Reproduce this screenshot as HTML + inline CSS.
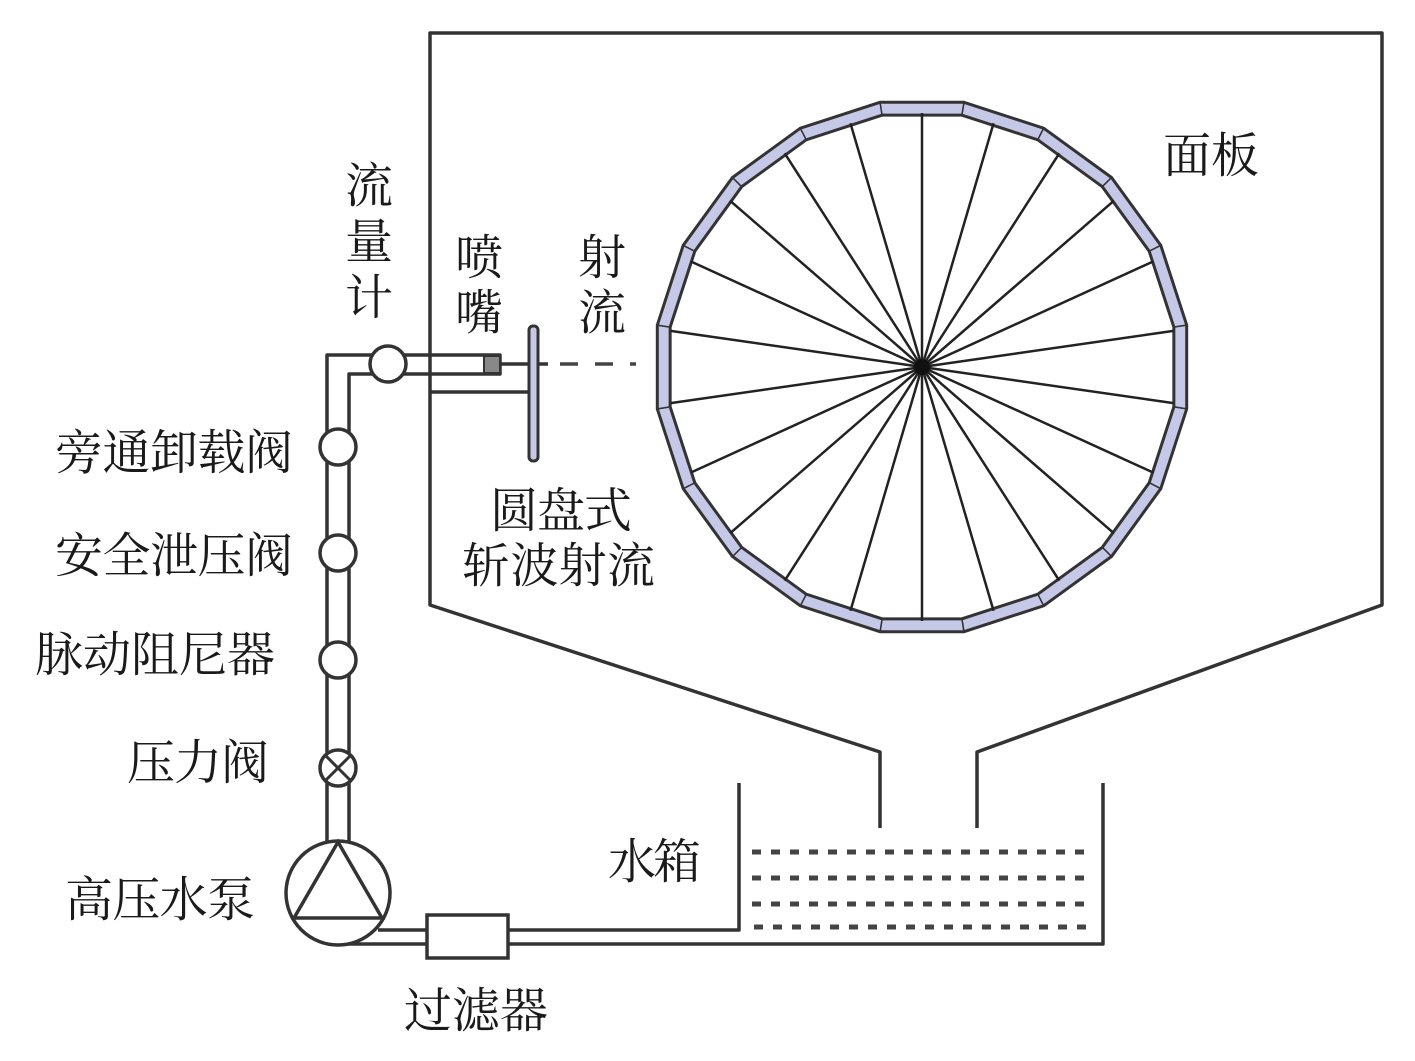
<!DOCTYPE html>
<html><head><meta charset="utf-8">
<style>
html,body{margin:0;padding:0;background:#fff;}
svg{display:block;}
text{font-family:"Noto Serif CJK SC","Liberation Serif",serif;font-size:48px;fill:#1a1a1a;}
</style></head>
<body>
<svg id="s" width="1415" height="1061" viewBox="0 0 1415 1061" xmlns="http://www.w3.org/2000/svg">
<g fill="none" stroke="#333" stroke-width="3.5" stroke-linejoin="round">
  <polyline points="880,828 880,752 430,605 430,33 1382,33 1382,605 977,752 977,828"/>
  <line x1="430" y1="392" x2="530" y2="392"/>
  <polyline points="739,783 739,930 378,930"/>
  <polyline points="1103,783 1103,944 338,944"/>
  <polyline points="327,842 327,355 372,355"/>
  <polyline points="349,842 349,374 372,374"/>
  <polyline points="404,355 500,355 500,374 404,374"/>
  <line x1="500" y1="364" x2="548" y2="364"/>
</g>
<line x1="560" y1="364" x2="636" y2="364" stroke="#444" stroke-width="3.5" stroke-dasharray="18,17"/>
<rect x="484" y="356" width="16" height="17" fill="#888" stroke="#333" stroke-width="2"/>
<circle cx="388" cy="364" r="18" fill="#fff" stroke="#333" stroke-width="3.5"/>
<g fill="#fff" stroke="#333" stroke-width="3.5">
<circle cx="338" cy="447" r="18"/>
<circle cx="338" cy="553" r="18"/>
<circle cx="338" cy="660" r="18"/>
<circle cx="338" cy="768" r="18"/>
</g>
<g stroke="#333" stroke-width="3">
<line x1="325" y1="755" x2="351" y2="781"/><line x1="351" y1="755" x2="325" y2="781"/>
</g>
<rect x="529" y="326" width="9" height="135" rx="4" fill="#c8c8e6" stroke="#333" stroke-width="3"/>
<circle cx="338" cy="893" r="52" fill="#fff" stroke="#333" stroke-width="3.5"/>
<polygon points="338,842 294,918 382,918" fill="none" stroke="#333" stroke-width="3.5"/>
<rect x="427" y="915" width="81" height="43" fill="#fff" stroke="#333" stroke-width="3.5"/>
<g stroke="#444" stroke-width="5" stroke-dasharray="9,10">
<line x1="752" y1="852" x2="1090" y2="852"/>
<line x1="752" y1="878" x2="1090" y2="878"/>
<line x1="752" y1="904" x2="1090" y2="904"/>
<line x1="754" y1="927" x2="1090" y2="927"/>
</g>
<g id="wheel"></g>
<text x="1163" y="172">面板</text>
<text x="345" y="202">流</text><text x="345" y="258">量</text><text x="345" y="314">计</text>
<text x="455" y="274">喷</text><text x="455" y="329">嘴</text>
<text x="578" y="274">射</text><text x="578" y="329">流</text>
<text x="55" y="469" textLength="238">旁通卸载阀</text>
<text x="55" y="572" textLength="238">安全泄压阀</text>
<text x="35" y="671" textLength="240">脉动阻尼器</text>
<text x="127" y="779" textLength="142">压力阀</text>
<text x="65" y="916" textLength="190">高压水泵</text>
<text x="608" y="878" textLength="93">水箱</text>
<text x="404" y="1027" textLength="144">过滤器</text>
<text x="490" y="527" textLength="142">圆盘式</text>
<text x="462" y="582" textLength="193">斩波射流</text>
</svg>
<script>
(function(){
var g=document.getElementById('wheel'),cx=922,cy=367,R=268,r=255,h='';
function p(a,rr){return [cx+rr*Math.cos(a),cy+rr*Math.sin(a)];}
var outer=[],inner=[];
for(var k=0;k<20;k++){var a=(-90+9+18*k)*Math.PI/180;outer.push(p(a,R));inner.push(p(a,r));}
for(var k=0;k<20;k++){var o1=outer[k],o2=outer[(k+1)%20],i1=inner[k],i2=inner[(k+1)%20];
h+='<polygon points="'+o1+' '+o2+' '+i2+' '+i1+'" fill="#c6c8e8" stroke="#333" stroke-width="1.5"/>';}
h+='<polygon points="'+outer.join(' ')+'" fill="none" stroke="#333" stroke-width="3"/>';
h+='<polygon points="'+inner.join(' ')+'" fill="none" stroke="#333" stroke-width="3"/>';
for(var k=0;k<22;k++){var a=(-90+360/22*k)*Math.PI/180;var e=p(a,r-1);
h+='<line x1="'+cx+'" y1="'+cy+'" x2="'+e[0]+'" y2="'+e[1]+'" stroke="#222" stroke-width="2.5"/>';}
h+='<circle cx="'+cx+'" cy="'+cy+'" r="8" fill="#111"/>';
g.innerHTML=h;
})();
</script>
</body></html>
